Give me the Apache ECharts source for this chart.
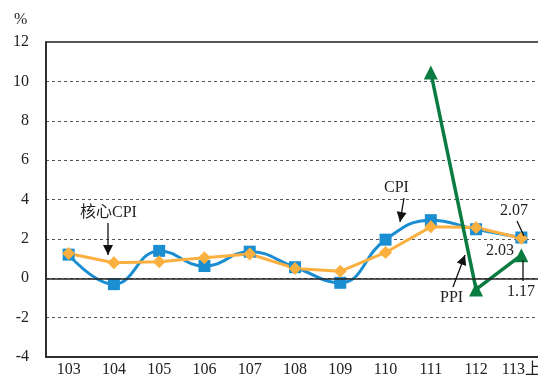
<!DOCTYPE html>
<html>
<head>
<meta charset="utf-8">
<script src="https://cdn.jsdelivr.net/npm/echarts@6/dist/echarts.min.js"></script>
<style>
  html, body { margin: 0; padding: 0; background: #fff; }
  #main { width: 538px; height: 376px; }
</style>
</head>
<body>
<div id="main"></div>
<script>
// 年度（民國）
const years = ['103', '104', '105', '106', '107', '108', '109', '110', '111', '112', '113上']
// CPI 年增率 (%)
const cpi = [1.20, -0.30, 1.39, 0.62, 1.35, 0.56, -0.23, 1.96, 2.95, 2.49, 2.07]
// 核心 CPI 年增率 (%)
const coreCpi = [1.26, 0.79, 0.84, 1.04, 1.23, 0.50, 0.35, 1.31, 2.61, 2.58, 2.03]
// PPI 年增率 (%)
const ppi = [null, null, null, null, null, null, null, null, 10.45, -0.57, 1.17]
const yTicks = [-4, -2, 0, 2, 4, 6, 8, 10, 12]

const FONT = '"Liberation Serif", "Times New Roman", "Noto Sans CJK TC", serif'
const BLUE = '#1b8ed1'
const ORANGE = '#fbb040'
const GREEN = '#0a7c42'

// 註解用：箭頭 + 文字（像素位置）
function arrow(x1, y1, x2, y2, head) {
	const els = [{
		type: 'line',
		shape: { x1, y1, x2, y2 },
		style: { stroke: '#111', lineWidth: 1.3 },
		z: 100,
	}]
	if (head) {
		const a = Math.atan2(y2 - y1, x2 - x1)
		const L = 10, W = 5
		const bx = x2 - L * Math.cos(a), by = y2 - L * Math.sin(a)
		els.push({
			type: 'polygon',
			shape: { points: [[x2, y2], [bx + W * Math.sin(a), by - W * Math.cos(a)], [bx - W * Math.sin(a), by + W * Math.cos(a)]] },
			style: { fill: '#111' },
			z: 100,
		})
	}
	return els
}
function label(text, x, y) {
	return {
		type: 'text', x, y, z: 100,
		style: { text, font: '16px ' + FONT, fill: '#222', textAlign: 'left', textVerticalAlign: 'middle' },
	}
}

const chart = echarts.init(document.getElementById('main'))

chart.setOption({
	animation: false,
	title: { text: '%', left: 14, top: 12, padding: 0, textStyle: { fontFamily: FONT, fontSize: 16, fontWeight: 'normal', color: '#222' } },
	grid: {
		left: 46, top: 42, right: -6, bottom: 19,
		outerBoundsMode: 'none', containLabel: false,
		show: true, borderColor: '#222', borderWidth: 1.5,
	},
	xAxis: {
		type: 'category',
		data: years,
		boundaryGap: true,
		axisLine: { show: true, onZero: false, lineStyle: { color: '#222', width: 1.5 } },
		axisTick: { show: false },
		axisLabel: { interval: 0, fontFamily: FONT, fontSize: 16, color: '#222', margin: 5 },
		splitLine: { show: false },
	},
	yAxis: {
		type: 'value',
		min: yTicks[0],
		max: yTicks[yTicks.length - 1],
		interval: 2,
		axisLine: { show: true, lineStyle: { color: '#222', width: 1.5 } },
		axisTick: { show: false },
		axisLabel: { fontFamily: FONT, fontSize: 16, color: '#222', margin: 17 },
		splitLine: { show: true, lineStyle: { color: '#555', type: [3, 3], width: 1 } },
	},
	series: [
		{
			name: 'CPI',
			type: 'line',
			data: cpi,
			smooth: 0.45,
			symbol: 'rect',
			symbolSize: 12,
			lineStyle: { color: BLUE, width: 3 },
			itemStyle: { color: BLUE },
			markLine: {
				silent: true,
				symbol: 'none',
				label: { show: false },
				lineStyle: { color: '#222', type: 'solid', width: 1.5 },
				data: [{ yAxis: 0 }],
			},
		},
		{
			name: '核心CPI',
			type: 'line',
			data: coreCpi,
			symbol: 'diamond',
			symbolSize: 13,
			lineStyle: { color: ORANGE, width: 3 },
			itemStyle: { color: ORANGE },
		},
		{
			name: 'PPI',
			type: 'line',
			data: ppi,
			symbol: 'triangle',
			symbolSize: 14,
			lineStyle: { color: GREEN, width: 3.5 },
			itemStyle: { color: GREEN },
		},
	],
	graphic: [
		label('核心CPI', 80, 213),
		...arrow(108, 223, 108, 255, true),
		label('CPI', 384, 188),
		...arrow(404, 198, 400, 222, true),
		label('PPI', 440, 298),
		...arrow(453, 287, 465, 255, true),
		label('2.07', 500, 211),
		...arrow(517, 221, 524, 236, false),
		label('2.03', 486, 251),
		label('1.17', 507, 292),
		...arrow(523, 281, 523, 260, false),
	],
})
</script>
</body>
</html>
